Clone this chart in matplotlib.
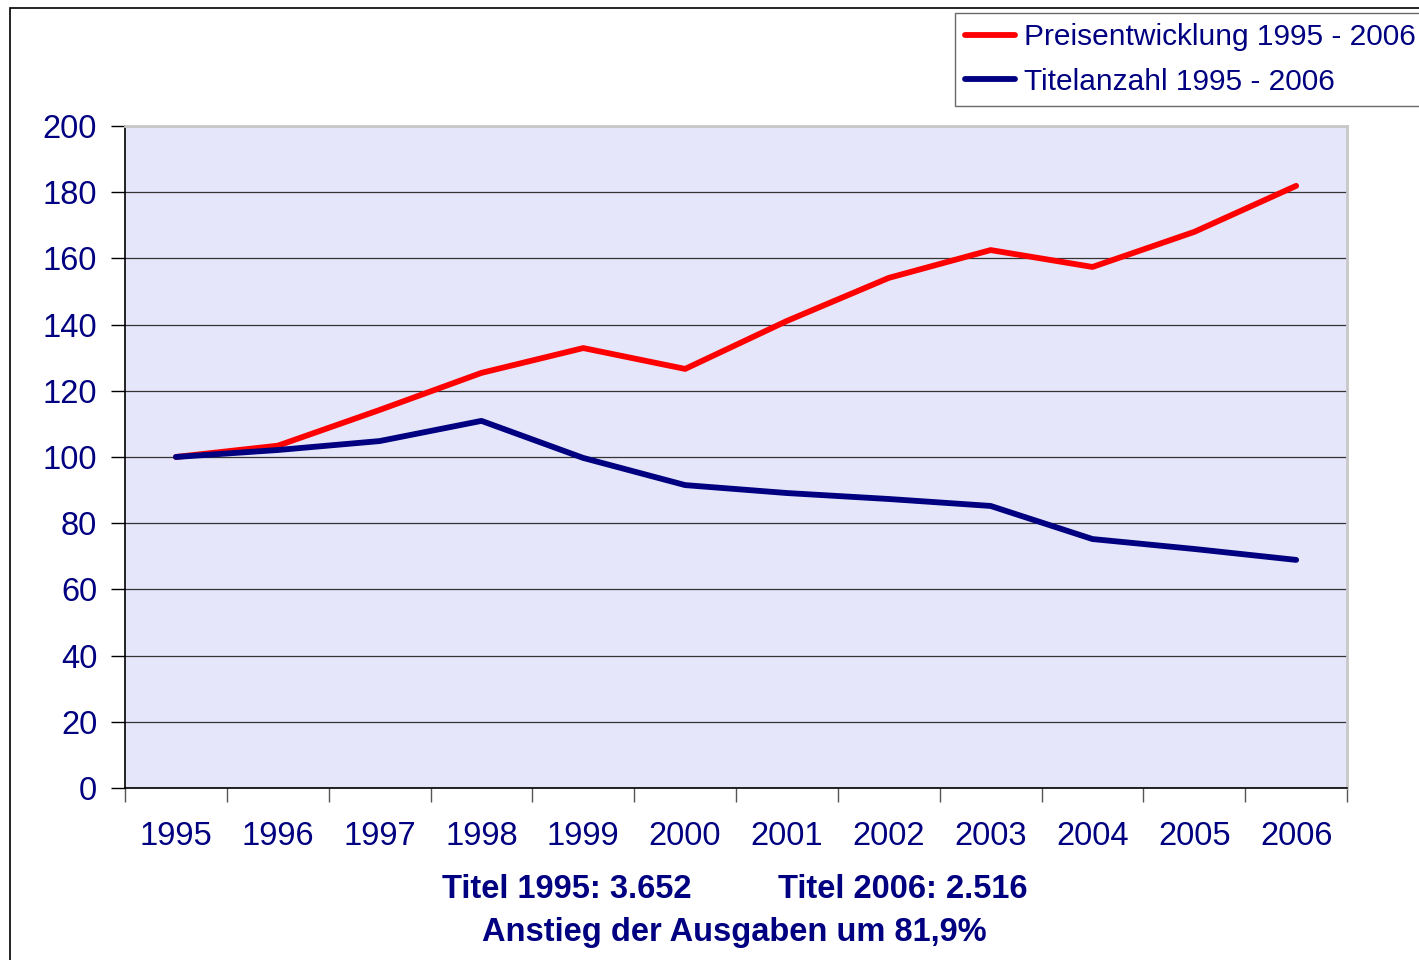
import matplotlib.pyplot as plt
import numpy as np
from matplotlib.patches import Rectangle

plt.rcParams["font.family"] = ["Liberation Sans", "DejaVu Sans"]

# Index values (1995 = 100)
years = ["1995", "1996", "1997", "1998", "1999", "2000",
         "2001", "2002", "2003", "2004", "2005", "2006"]
preis = [100, 103.4, 114.2, 125.4, 132.9, 126.6,
         141.1, 154.1, 162.5, 157.4, 168.0, 181.9]
titel = [100, 102.1, 104.8, 110.9, 99.7, 91.5,
         89.1, 87.3, 85.2, 75.2, 72.2, 68.9]

navy = "#000080"


def main():
    fig = plt.figure(figsize=(14.19, 9.6), dpi=100)
    ax = fig.add_axes([0.0881, 0.1792, 0.8612, 0.6896])

    # outer frame around the chart
    fig.patches.append(Rectangle((10 / 1419, -0.02), 1.1, 1 - 8 / 960 + 0.02,
                                 transform=fig.transFigure, fill=False,
                                 edgecolor="black", linewidth=1.2, zorder=0))

    ax.set_facecolor("#E6E6FA")
    x = np.arange(len(years))
    ax.plot(x, preis, color="#FF0000", linewidth=4.2,
            solid_capstyle="round", label="Preisentwicklung 1995 - 2006", zorder=3)
    ax.plot(x, titel, color=navy, linewidth=4.2,
            solid_capstyle="round", label="Titelanzahl 1995 - 2006", zorder=3)

    ax.set_xlim(-0.5, len(years) - 0.5)
    ax.set_ylim(0, 200)
    ax.set_yticks(range(0, 201, 20))
    ax.yaxis.grid(True, color="#333333", linewidth=0.9)
    ax.set_axisbelow(True)

    ax.set_xticks(x)
    ax.set_xticklabels(years)
    ax.set_xticks(np.arange(-0.5, len(years), 1), minor=True)
    ax.tick_params(axis="x", which="major", length=0, pad=24,
                   labelsize=23.5, labelcolor=navy)
    ax.tick_params(axis="x", which="minor", length=10, width=1, direction="out",
                   color="#555555")
    ax.tick_params(axis="y", length=10, width=1, direction="out", pad=10,
                   labelsize=23.5, labelcolor=navy)

    for side in ("top", "right"):
        ax.spines[side].set_color("#C8C8C8")
        ax.spines[side].set_linewidth(2)
    for side in ("left", "bottom"):
        ax.spines[side].set_color("black")
        ax.spines[side].set_linewidth(1.2)

    leg = ax.legend(loc="upper left", bbox_to_anchor=(955 / 1419, 1 - 13 / 960),
                    bbox_transform=fig.transFigure, fontsize=21.5,
                    frameon=True, fancybox=False, edgecolor="#444444",
                    handlelength=1.65, handletextpad=0.3, borderpad=0.35,
                    labelspacing=0.55, borderaxespad=0)
    leg.get_frame().set_linewidth(1)
    for t in leg.get_texts():
        t.set_color(navy)

    fig.text(567 / 1419, 1 - 889 / 960, "Titel 1995: 3.652", ha="center",
             va="center", fontsize=23.5, fontweight="bold", color=navy)
    fig.text(903 / 1419, 1 - 889 / 960, "Titel 2006: 2.516", ha="center",
             va="center", fontsize=23.5, fontweight="bold", color=navy)
    fig.text(734 / 1419, 1 - 932 / 960, "Anstieg der Ausgaben um 81,9%",
             ha="center", va="center", fontsize=23.5, fontweight="bold", color=navy)

    fig.savefig("out.png", dpi=100)
    plt.close(fig)


if __name__ == "__main__":
    main()
